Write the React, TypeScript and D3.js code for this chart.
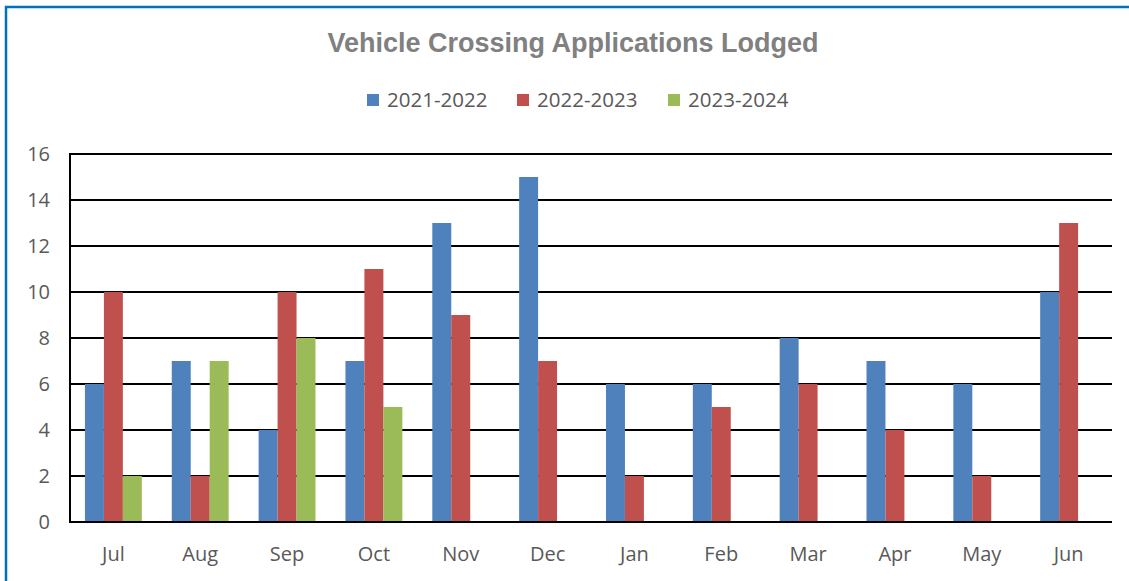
import React from "react";
import * as d3 from "d3";

const months = ["Jul", "Aug", "Sep", "Oct", "Nov", "Dec", "Jan", "Feb", "Mar", "Apr", "May", "Jun"];
const seriesNames = ["2021-2022", "2022-2023", "2023-2024"];
const s2122: (number | null)[] = [6, 7, 4, 7, 13, 15, 6, 6, 8, 7, 6, 10];
const s2223: (number | null)[] = [10, 2, 10, 11, 9, 7, 2, 5, 6, 4, 2, 13];
const s2324: (number | null)[] = [2, 7, 8, 5, null, null, null, null, null, null, null, null];
const colors = ["#4F81BD", "#C0504D", "#9BBB59"];
const yTicks = [0, 2, 4, 6, 8, 10, 12, 14, 16];

const W = 1129, H = 581;
const left = 70, right = 1112, top = 154, bottom = 522;

export default function App() {
  const series = [s2122, s2223, s2324];
  const x = d3.scaleBand<string>().domain(months).range([left, right]).paddingInner(0.345).paddingOuter(0.172);
  const xs = d3.scaleBand<number>().domain([0, 1, 2]).range([0, x.bandwidth()]);
  const y = d3.scaleLinear().domain([0, 16]).range([bottom, top]);
  const font = "'Open Sans', 'Noto Sans', sans-serif";
  const legendX = [367, 517, 668];
  return (
    <svg width={W} height={H} style={{ position: "absolute", left: 0, top: 0 }}>
      <rect x={0} y={0} width={W} height={H} fill="#fff" />
      <path d={`M6,${H} L6,7 L${W},7`} fill="none" stroke="#0070C0" strokeWidth={2.5} />
      <text x={573} y={52} textAnchor="middle" fontFamily="'Liberation Sans', Arial, sans-serif" fontWeight="bold" fontSize={27} fill="#808080">
        Vehicle Crossing Applications Lodged
      </text>
      {seriesNames.map((n, i) => (
        <g key={n}>
          <rect x={legendX[i]} y={94} width={12} height={12} fill={colors[i]} />
          <text x={legendX[i] + 20} y={107} fontFamily={font} fontSize={20.5} fill="#595959">{n}</text>
        </g>
      ))}
      {yTicks.map((t) => (
        <g key={t}>
          <line x1={left} x2={right} y1={y(t)} y2={y(t)} stroke="#000" strokeWidth={2} />
          <text x={50} y={y(t) + 7} textAnchor="end" fontFamily={font} fontSize={20} fill="#595959">{t}</text>
        </g>
      ))}
      <line x1={left} x2={left} y1={top - 1} y2={bottom + 1} stroke="#000" strokeWidth={2} />
      {series.map((s, si) =>
        s.map((v, mi) =>
          v == null ? null : (
            <rect
              key={`${si}-${mi}`}
              x={(x(months[mi]) as number) + (xs(si) as number)}
              y={y(v)}
              width={xs.bandwidth()}
              height={bottom - y(v)}
              fill={colors[si]}
            />
          )
        )
      )}
      <line x1={left} x2={right} y1={bottom} y2={bottom} stroke="#000" strokeWidth={2} />
      {months.map((m) => (
        <text key={m} x={(x(m) as number) + x.bandwidth() / 2} y={561} textAnchor="middle" fontFamily={font} fontSize={20} fill="#595959">{m}</text>
      ))}
    </svg>
  );
}
